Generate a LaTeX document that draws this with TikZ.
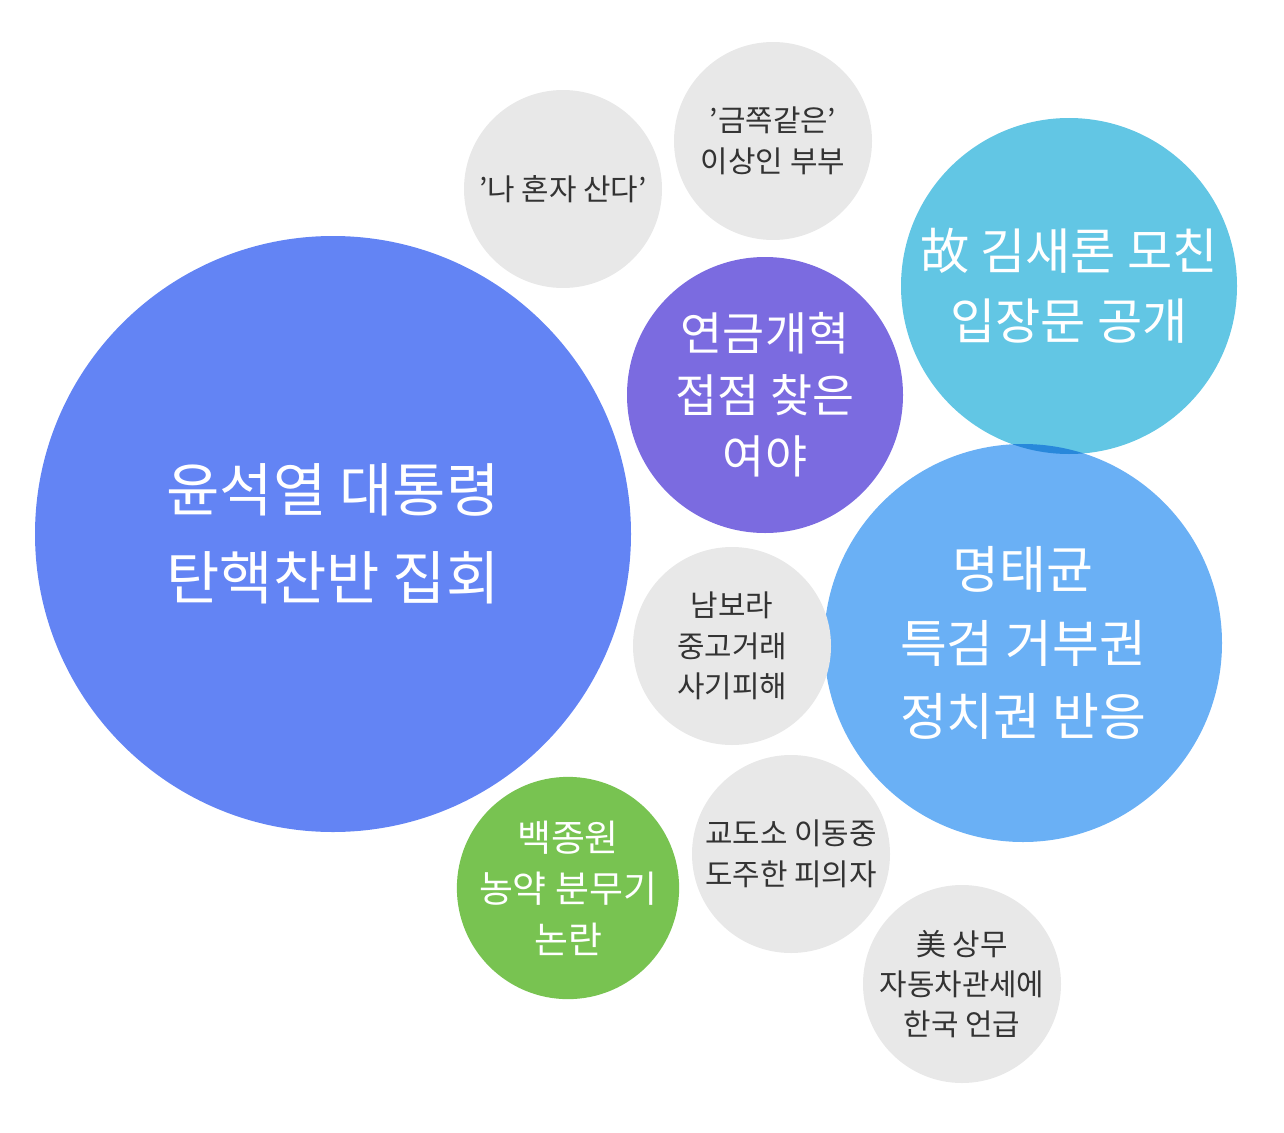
\documentclass[tikz,border=0pt]{standalone}
\usepackage{fontspec}
\setmainfont{Noto Sans CJK KR}
\definecolor{bigblue}{HTML}{6384F4}
\definecolor{cyanc}{HTML}{62C6E4}
\definecolor{purp}{HTML}{7B6BE0}
\definecolor{lblue}{HTML}{6AB0F5}
\definecolor{grn}{HTML}{78C351}
\definecolor{gry}{HTML}{E8E8E8}
\definecolor{txt}{HTML}{333333}
\tikzset{
 bub/.style={circle,inner sep=0pt,align=center},
 graybub/.style={bub,fill=gry,text=txt,font=\fontsize{17}{23}\selectfont},
}
\begin{document}
\begin{tikzpicture}[x=0.02cm,y=-0.02cm]
\useasboundingbox (0,0) rectangle (1284,1132);
\node[bub,fill=bigblue,minimum size=596*0.02cm,text=white,font=\fontsize{33}{50}\selectfont] (a) at (333,534) {윤석열 대통령\\탄핵찬반 집회};
\node[graybub,minimum size=198*0.02cm] (b) at (563,189) {'나 혼자 산다'};
\node[graybub,minimum size=198*0.02cm] (c) at (773,141) {'금쪽같은'\\이상인 부부};
\node[bub,fill=cyanc,minimum size=336*0.02cm,text=white,font=\fontsize{28}{40}\selectfont] (d) at (1069,286) {故 김새론 모친\\입장문 공개};
\node[bub,fill=purp,minimum size=276*0.02cm,text=white,font=\fontsize{26}{35}\selectfont] (e) at (765,395) {연금개혁\\접점 찾은\\여야};
\begin{scope}[blend mode=multiply]
\fill[lblue] (1023,643) circle (199);
\end{scope}
\node[bub,minimum size=398*0.02cm,text=white,font=\fontsize{29}{42}\selectfont] (f) at (1023,643) {명태균\\특검 거부권\\정치권 반응};
\node[graybub,minimum size=198*0.02cm] (g) at (732,646) {남보라\\중고거래\\사기피해};
\node[bub,fill=grn,minimum size=220*0.02cm,text=white,font=\fontsize{21}{29}\selectfont] (h) at (568,888) {백종원\\농약 분무기\\논란};
\node[graybub,minimum size=198*0.02cm] (i) at (791,854) {교도소 이동중\\도주한 피의자};
\node[graybub,minimum size=198*0.02cm] (j) at (962,984) {美 상무\\자동차관세에\\한국 언급};
\end{tikzpicture}
\end{document}
